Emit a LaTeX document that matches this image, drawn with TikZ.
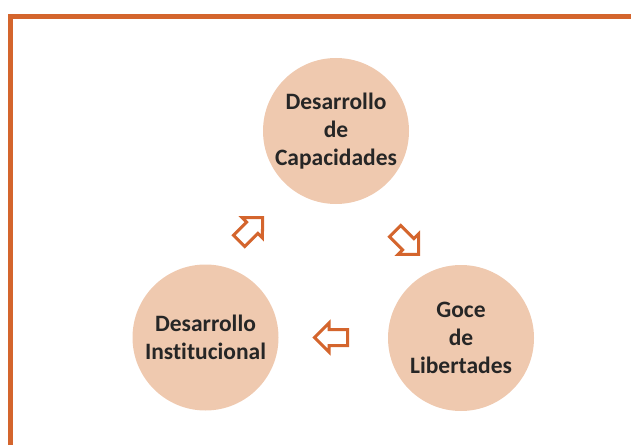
\documentclass[tikz,border=0pt]{standalone}
\usepackage{fontspec}
\setmainfont[Ligatures=NoCommon]{Carlito}
\usetikzlibrary{shapes.arrows}
\definecolor{framecol}{RGB}{212,101,45}
\definecolor{circfill}{RGB}{239,201,175}
\definecolor{txtcol}{RGB}{38,38,38}
\tikzset
{
    stage/.style = {circle, fill=circfill, minimum size=146pt, inner sep=0pt, align=center, text=txtcol, font=\fontsize{23.5}{28}\selectfont\bfseries},
    cyclearrow/.style = {single arrow, draw=framecol, line width=3pt, fill=white, inner sep=6.5pt, minimum height=33pt, single arrow head extend=6.5pt, single arrow tip angle=90},
    frame/.style = {draw=framecol, line width=5.5pt, line join=miter}
}

\begin{document}
\begin{tikzpicture}[x=1pt, y=1pt]
	\useasboundingbox (0,0) rectangle (631,445);
	\draw [frame] (10.5,0) |- (631,428.5);

	\node (cap) [stage] at (336,314) {Desarrollo\\de\\Capacidades};
	\node (lib) [stage] at (461,107) {Goce\\de\\Libertades};
	\node (ins) [stage] at (205.5,107.5) {Desarrollo\\Institucional};

	\node (a1) [cyclearrow, rotate=-45] at (404,205) {};
	\node (a2) [cyclearrow, rotate=180] at (335,107.5) {};
	\node (a3) [cyclearrow, rotate=45] at (248,213) {};
\end{tikzpicture}
\end{document}
